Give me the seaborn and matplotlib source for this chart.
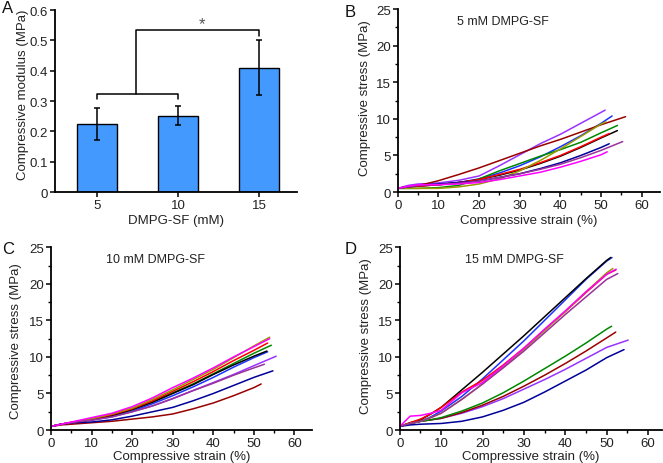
import matplotlib
matplotlib.use("Agg")
import matplotlib.pyplot as plt
from matplotlib.ticker import MultipleLocator, FuncFormatter
import numpy as np
import pandas as pd
import seaborn as sns

sns.set_theme(style="ticks")
plt.rcParams['font.family'] = ['Liberation Sans', 'DejaVu Sans']

# ---- panel A data ----
conc_labels = ["5", "10", "15"]
modulus = [0.225, 0.252, 0.41]
modulus_err = [0.053, 0.032, 0.09]

# ---- curve data (stress in MPa read at the strain grid, plus an end point) ----
strain_grid = [0, 2.5, 5, 7.5, 10, 15, 20, 25, 30, 35, 40, 45, 50]
sample_names = ["violet", "blue", "brown", "green", "black", "red", "olive", "navy", "plum", "magenta"]
sample_colors = ["#9933FF", "#1A33FF", "#990000", "#008800", "#000000",
                 "#FF0000", "#999900", "#000099", "#993399", "#FF00FF"]

# 5 mM
b_violet = [0.5, 0.9, 1.1, 1.15, 1.25, 1.6, 2.2, 3.6, 5.1, 6.6, 7.9, 9.4, 10.9]
b_blue = [0.5, 0.7, 0.85, 0.95, 1.0, 1.3, 1.8, 2.6, 3.6, 4.8, 6.2, 7.7, 9.4]
b_brown = [0.5, 0.7, 0.9, 1.2, 1.55, 2.4, 3.3, 4.3, 5.3, 6.3, 7.2, 8.2, 9.2]
b_green = [0.5, 0.5, 0.5, 0.55, 0.6, 0.9, 1.8, 2.9, 3.9, 4.9, 5.8, 6.8, 8.1]
b_black = [0.5, 0.7, 0.8, 0.9, 1.0, 1.3, 1.7, 2.3, 3.0, 3.9, 4.9, 6.1, 7.4]
b_red = [0.5, 0.7, 0.8, 0.9, 1.0, 1.3, 1.7, 2.4, 3.1, 4.0, 5.0, 6.2, 7.5]
b_olive = [0.5, 0.5, 0.5, 0.5, 0.5, 0.7, 1.1, 1.8, 2.9, 4.3, 5.9, 7.6, 9.3]
b_navy = [0.5, 0.7, 0.9, 1.0, 1.1, 1.3, 1.5, 2.0, 2.5, 3.2, 4.0, 5.0, 6.1]
b_plum = [0.5, 0.7, 0.9, 1.0, 1.0, 1.2, 1.5, 2.0, 2.5, 3.1, 3.8, 4.7, 5.7]
b_magenta = [0.5, 0.8, 1.0, 1.0, 1.0, 1.1, 1.3, 1.7, 2.2, 2.7, 3.4, 4.2, 5.1]
b_end_strain = [51, 52.7, 56, 54, 54, 52, 51.2, 52, 55.3, 51.5]
b_end_stress = [11.2, 10.4, 10.3, 9.1, 8.4, 8.0, 9.6, 6.6, 6.9, 5.5]

# 10 mM
c_violet = [0.5, 0.8, 1.0, 1.2, 1.35, 1.8, 2.5, 3.3, 4.3, 5.4, 6.5, 7.6, 8.8]
c_blue = [0.5, 0.8, 1.0, 1.2, 1.4, 1.9, 2.6, 3.6, 4.7, 5.9, 7.2, 8.6, 9.9]
c_brown = [0.5, 0.7, 0.8, 0.9, 1.0, 1.2, 1.5, 1.8, 2.2, 2.9, 3.7, 4.7, 5.8]
c_green = [0.5, 0.8, 1.05, 1.25, 1.5, 2.0, 2.8, 3.9, 5.1, 6.3, 7.7, 9.1, 10.5]
c_black = [0.5, 0.8, 1.0, 1.2, 1.45, 2.0, 2.8, 3.8, 5.0, 6.2, 7.6, 8.9, 10.1]
c_red = [0.5, 0.8, 1.05, 1.25, 1.5, 2.1, 2.9, 4.0, 5.3, 6.6, 8.0, 9.5, 10.9]
c_olive = [0.5, 0.8, 1.05, 1.3, 1.55, 2.2, 3.0, 4.2, 5.5, 6.9, 8.3, 9.9, 11.5]
c_navy = [0.5, 0.8, 1.0, 1.05, 1.1, 1.4, 1.9, 2.5, 3.1, 4.0, 5.0, 6.1, 7.2]
c_plum = [0.5, 0.8, 1.0, 1.2, 1.35, 1.8, 2.5, 3.3, 4.3, 5.4, 6.4, 7.5, 8.5]
c_magenta = [0.5, 0.8, 1.1, 1.4, 1.7, 2.3, 3.2, 4.4, 5.8, 7.1, 8.5, 10.0, 11.4]
c_end_strain = [55.5, 53.4, 51.8, 54.3, 53.2, 53.4, 53.9, 54.7, 52.6, 53.9]
c_end_stress = [10.1, 10.7, 6.3, 11.6, 10.8, 11.9, 12.7, 8.1, 9.0, 12.5]

# 15 mM
d_violet = [0.5, 0.9, 1.2, 1.4, 1.6, 2.3, 3.2, 4.3, 5.6, 6.9, 8.3, 9.8, 11.3]
d_blue = [0.5, 0.9, 1.2, 1.8, 2.6, 4.6, 7.0, 9.6, 12.2, 15.0, 17.8, 20.6, 23.1]
d_brown = [0.5, 0.9, 1.2, 1.4, 1.6, 2.4, 3.4, 4.6, 6.0, 7.5, 9.1, 10.8, 12.6]
d_green = [0.5, 0.9, 1.2, 1.4, 1.7, 2.6, 3.7, 5.1, 6.7, 8.4, 10.1, 11.9, 13.8]
d_black = [0.5, 1.0, 1.4, 2.2, 3.1, 5.5, 7.9, 10.4, 12.9, 15.5, 18.1, 20.7, 23.2]
d_red = [0.5, 1.0, 1.5, 2.2, 3.1, 5.2, 6.8, 8.9, 11.2, 13.7, 16.2, 18.8, 21.3]
d_olive = [0.5, 0.9, 1.2, 1.7, 2.3, 4.2, 6.3, 8.6, 11.0, 13.6, 16.2, 18.9, 21.5]
d_navy = [0.5, 0.7, 0.8, 0.85, 0.9, 1.2, 1.8, 2.7, 3.8, 5.2, 6.7, 8.2, 9.9]
d_plum = [0.5, 0.9, 1.2, 1.7, 2.3, 4.2, 6.3, 8.5, 10.8, 13.3, 15.8, 18.2, 20.6]
d_magenta = [0.5, 1.9, 2.0, 2.3, 2.7, 5.1, 6.5, 8.8, 11.2, 13.8, 16.3, 18.9, 21.3]
d_end_strain = [55.2, 51.3, 52.2, 51.2, 51.0, 52.2, 51.5, 54.2, 52.7, 52.3]
d_end_stress = [12.3, 23.6, 13.4, 14.2, 23.6, 21.9, 22.1, 11.0, 21.4, 22.0]

TEXT = "#222222"


def curves_frame(stress_lists, end_strain, end_stress):
    rows = []
    for name, ys, ex, ey in zip(sample_names, stress_lists, end_strain, end_stress):
        for x, y in zip(strain_grid + [ex], ys + [ey]):
            rows.append((name, x, y))
    return pd.DataFrame(rows, columns=["sample", "strain", "stress"])


def style_axes(ax):
    for s in ["top", "right"]:
        ax.spines[s].set_visible(False)
    for s in ["left", "bottom"]:
        ax.spines[s].set_linewidth(1.3)
        ax.spines[s].set_color("black")
    ax.tick_params(which="major", direction="out", length=3.5, width=1.1,
                   labelsize=9.5, color="black", labelcolor=TEXT, pad=1.5)
    ax.tick_params(which="minor", direction="out", length=2, width=1.0, color="black")


fig = plt.figure(figsize=(6.63, 4.64), dpi=100)

# ---- A ----
axA = fig.add_axes([0.083, 0.584, 0.365, 0.392])
dfA = pd.DataFrame({"conc": conc_labels, "modulus": modulus})
sns.barplot(data=dfA, x="conc", y="modulus", color="#4499FF", saturation=1,
            width=0.49, edgecolor="black", linewidth=1.0, ax=axA)
axA.errorbar(range(3), modulus, yerr=modulus_err, fmt="none", ecolor="black",
             elinewidth=1.1, capsize=2.5, capthick=1.1)
axA.set_xlim(-0.52, 2.47)
axA.set_ylim(0, 0.6)
axA.yaxis.set_major_locator(MultipleLocator(0.1))
axA.yaxis.set_major_formatter(FuncFormatter(lambda v, p: "0" if abs(v) < 1e-9 else f"{v:.1f}"))
axA.set_xlabel("DMPG-SF (mM)", fontsize=9.5, color=TEXT, labelpad=2.5)
axA.set_ylabel("Compressive modulus (MPa)", fontsize=9.5, color=TEXT)
axA.yaxis.set_label_coords(-0.107, 0.54)
style_axes(axA)
# significance bracket
axA.plot([0, 0, 1, 1], [0.307, 0.325, 0.325, 0.307], color="black", lw=1.1)
axA.plot([0.48, 0.48, 2.0, 2.0], [0.325, 0.534, 0.534, 0.515], color="black", lw=1.1)
axA.text(1.3, 0.555, "*", ha="center", va="center", fontsize=12, color="#555555")

# ---- B, C, D ----
panels = [
    ([0.600, 0.584, 0.395, 0.394], [b_violet, b_blue, b_brown, b_green, b_black, b_red,
                                    b_olive, b_navy, b_plum, b_magenta],
     b_end_strain, b_end_stress, "5 mM DMPG-SF", 14.5, 64.4, (-0.102, 0.52), 2.5),
    ([0.077, 0.071, 0.394, 0.394], [c_violet, c_blue, c_brown, c_green, c_black, c_red,
                                    c_olive, c_navy, c_plum, c_magenta],
     c_end_strain, c_end_stress, "10 mM DMPG-SF", 13.6, 64.4, (-0.11, 0.49), 1),
    ([0.603, 0.071, 0.395, 0.394], [d_violet, d_blue, d_brown, d_green, d_black, d_red,
                                    d_olive, d_navy, d_plum, d_magenta],
     d_end_strain, d_end_stress, "15 mM DMPG-SF", 15.7, 63.3, (-0.106, 0.52), 1),
]
for rect, stresses, ex, ey, title, tx, xmax, ylab_xy, xpad in panels:
    ax = fig.add_axes(rect)
    df = curves_frame(stresses, ex, ey)
    sns.lineplot(data=df, x="strain", y="stress", hue="sample",
                 palette=dict(zip(sample_names, sample_colors)),
                 estimator=None, sort=False, legend=False, linewidth=1.1, ax=ax)
    ax.set_xlim(0, xmax)
    ax.set_ylim(0, 25)
    ax.xaxis.set_major_locator(MultipleLocator(10))
    ax.xaxis.set_minor_locator(MultipleLocator(5))
    ax.yaxis.set_major_locator(MultipleLocator(5))
    ax.yaxis.set_minor_locator(MultipleLocator(2.5))
    ax.set_xlabel("Compressive strain (%)", fontsize=9.5, color=TEXT, labelpad=xpad)
    ax.set_ylabel("Compressive stress (MPa)", fontsize=9.5, color=TEXT)
    ax.yaxis.set_label_coords(*ylab_xy)
    ax.text(tx, 23.4, title, ha="left", va="center", fontsize=9, color=TEXT)
    style_axes(ax)

# panel letters
for letter, x, y in [("A", 0.003, 0.997), ("B", 0.52, 0.99), ("C", 0.003, 0.478), ("D", 0.52, 0.478)]:
    fig.text(x, y, letter, fontsize=12, ha="left", va="top", color="#111111")

fig.savefig("out.png", dpi=100)
plt.close(fig)
